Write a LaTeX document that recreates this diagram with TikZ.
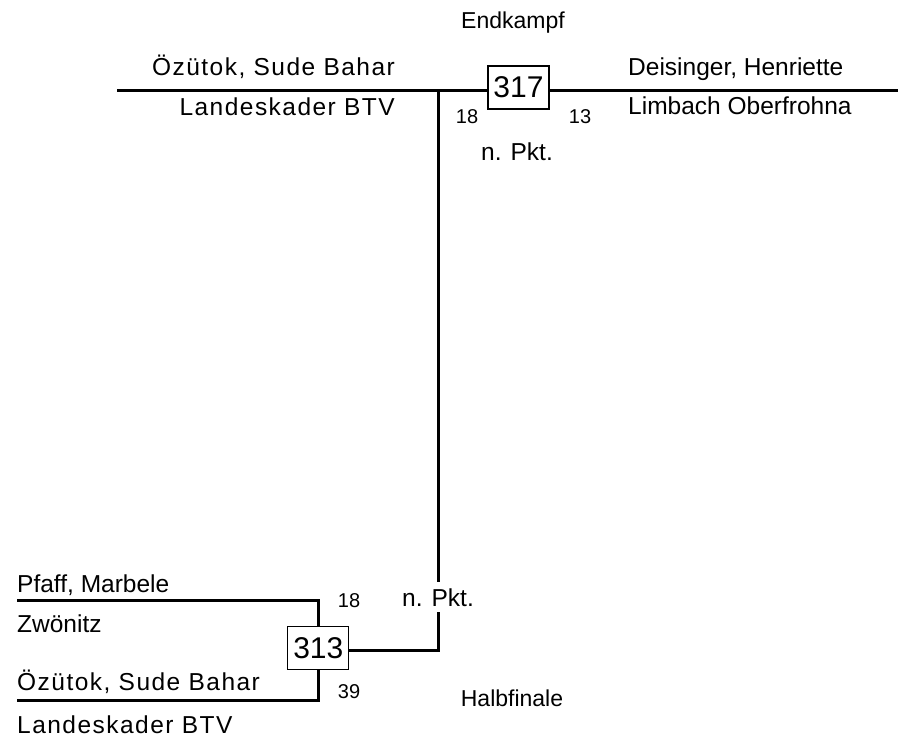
\documentclass[tikz,border=0pt]{standalone}
\usepackage{fontspec}
\setmainfont{Liberation Sans}
\usepackage{tikz}

\begin{document}
\begin{tikzpicture}[x=1pt,y=-1pt]
  \tikzstyle{every node}=[inner sep=0pt]
  \tikzstyle{entrant}=[font=\fontsize{24.5}{29}\selectfont]
  \tikzstyle{spacedentrant}=[font=\fontsize{24.5}{29}\selectfont\addfontfeature{LetterSpace=6}]
  \tikzstyle{scoretext}=[font=\fontsize{20}{24}\selectfont]
  \tikzstyle{roundlabel}=[font=\fontsize{23}{27}\selectfont]
  \tikzstyle{fightbox}=[draw,line width=1.2pt,fill=white,minimum width=61pt,minimum height=43pt,font=\fontsize{30}{34}\selectfont]
  \tikzstyle{bracket}=[line width=3pt]
  \useasboundingbox (0,0) rectangle (908,737);

  % Endkampf
  \node[roundlabel,anchor=base] (final) at (513,28) {Endkampf};
  \node[fightbox] (f317) at (518.5,87.5) {317};
  \coordinate (topL) at (117,90);
  \coordinate (topR) at (898,90);
  \coordinate (fork) at (438,90);
  \node[spacedentrant,anchor=base east] (redA) at (395,75) {Özütok, Sude Bahar};
  \node[spacedentrant,anchor=base east] (redAc) at (395,115) {Landeskader BTV};
  \node[entrant,anchor=base west] (blueA) at (628,75) {Deisinger, Henriette};
  \node[entrant,anchor=base west] (blueAc) at (628,114) {Limbach Oberfrohna};
  \node[scoretext,anchor=base] (sA1) at (467,123) {18};
  \node[scoretext,anchor=base] (sA2) at (580,123) {13};
  \node[entrant,anchor=base] (pktA) at (517,160) {n. Pkt.};
  \draw[bracket] (topL) -- (topL -| f317.west);
  \draw[bracket] (f317.east |- topR) -- (topR);

  % Halbfinale
  \node[fightbox] (f313) at (318.3,648) {313};
  \coordinate (elbow) at (438,650);
  \coordinate (redL) at (17,600);
  \coordinate (blueL) at (17,700);
  \node[entrant,anchor=base west] (redB) at (17,592) {Pfaff, Marbele};
  \node[entrant,anchor=base west] (redBc) at (17,632) {Zwönitz};
  \node[spacedentrant,anchor=base west] (blueB) at (17,690) {Özütok, Sude Bahar};
  \node[spacedentrant,anchor=base west] (blueBc) at (17,733) {Landeskader BTV};
  \node[scoretext,anchor=base] (sB1) at (349,607) {18};
  \node[scoretext,anchor=base] (sB2) at (349,698) {39};
  \node[entrant,anchor=base,inner ysep=6pt] (pktB) at (438,606) {n. Pkt.};
  \node[roundlabel,anchor=base] (semi) at (512,706) {Halbfinale};
  \draw[bracket] (redL) -- (redL -| f313) -- (f313.north);
  \draw[bracket] (blueL) -- (blueL -| f313) -- (f313.south);
  \draw[bracket] (fork) -- (pktB.north);
  \draw[bracket] (pktB.south) -- (elbow) -- (f313.east |- elbow);
\end{tikzpicture}
\end{document}
